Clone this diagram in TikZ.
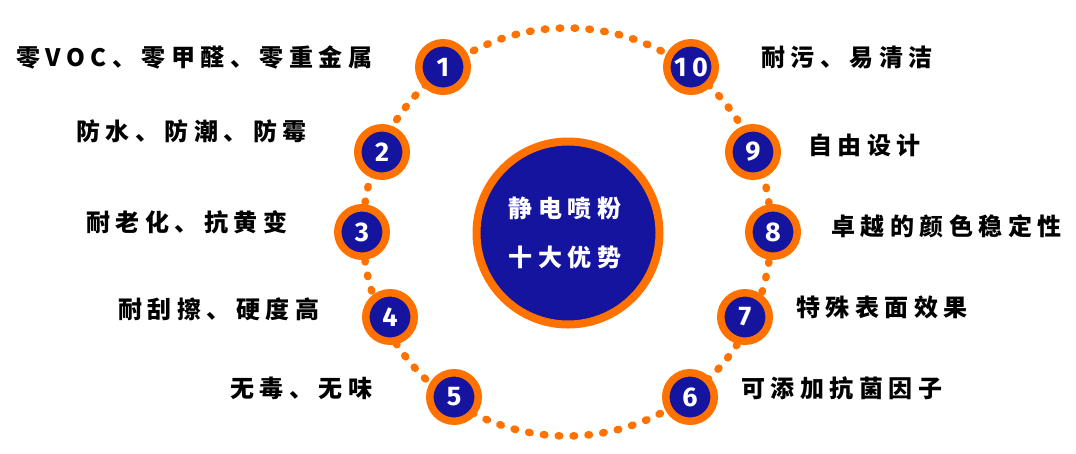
\documentclass[tikz,border=0pt]{standalone}
\usepackage{fontspec}
\newfontfamily\cjk{Noto Sans CJK SC}[LetterSpace=23]
\newfontfamily\numfont{Fira Sans}[LetterSpace=20]
\definecolor{orng}{RGB}{255,114,0}
\definecolor{dblue}{RGB}{20,20,158}
\tikzset{
  numcirc/.style={circle,draw=orng,fill=dblue,line width=7.5pt,minimum size=48.5pt,inner sep=0pt,
    text=white,font=\numfont\bfseries\fontsize{27}{27}\selectfont},
  bigcirc/.style={circle,draw=orng,fill=dblue,line width=8pt,minimum size=183pt,inner sep=0pt},
  lbl/.style={anchor=west,inner sep=0pt,font=\cjk\bfseries\fontsize{24}{24}\selectfont,text=black},
  ctxt/.style={inner sep=0pt,font=\cjk\bfseries\fontsize{24}{24}\selectfont,text=white},
  dotline/.style={orng,line width=7.5pt,line cap=round,dash pattern=on 1.5pt off 13.4pt}
}
\begin{document}
\begin{tikzpicture}[x=1pt,y=-1pt]
\useasboundingbox (0,0) rectangle (1076,453);
\coordinate (ring) at (567,232);
\draw[dotline] (ring) circle (204);
\node[bigcirc] (center) at (568,233) {};
\node[ctxt] (t1) at (565,208) {静电喷粉};
\node[ctxt] (t2) at (565,257) {十大优势};
\node[numcirc] (n1) at (443,67) {1};
\node[numcirc] (n2) at (382,152) {2};
\node[numcirc] (n3) at (362,232) {3};
\node[numcirc] (n4) at (390,317) {4};
\node[numcirc] (n5) at (454,397) {5};
\node[numcirc] (n6) at (690,397) {6};
\node[numcirc] (n7) at (745,317) {7};
\node[numcirc] (n8) at (773,232) {8};
\node[numcirc] (n9) at (753,152) {9};
\node[numcirc] (n10) at (691,67) {10};
\node[lbl] (l1) at (16,57) {零VOC、零甲醛、零重金属};
\node[lbl] (l2) at (76,131) {防水、防潮、防霉};
\node[lbl] (l3) at (86,222) {耐老化、抗黄变};
\node[lbl] (l4) at (118,309) {耐刮擦、硬度高};
\node[lbl] (l5) at (230,388) {无毒、无味};
\node[lbl] (l10) at (761,57) {耐污、易清洁};
\node[lbl] (l9) at (808,145) {自由设计};
\node[lbl] (l8) at (831,226) {卓越的颜色稳定性};
\node[lbl] (l7) at (796,307) {特殊表面效果};
\node[lbl] (l6) at (741,388) {可添加抗菌因子};
\end{tikzpicture}
\end{document}
